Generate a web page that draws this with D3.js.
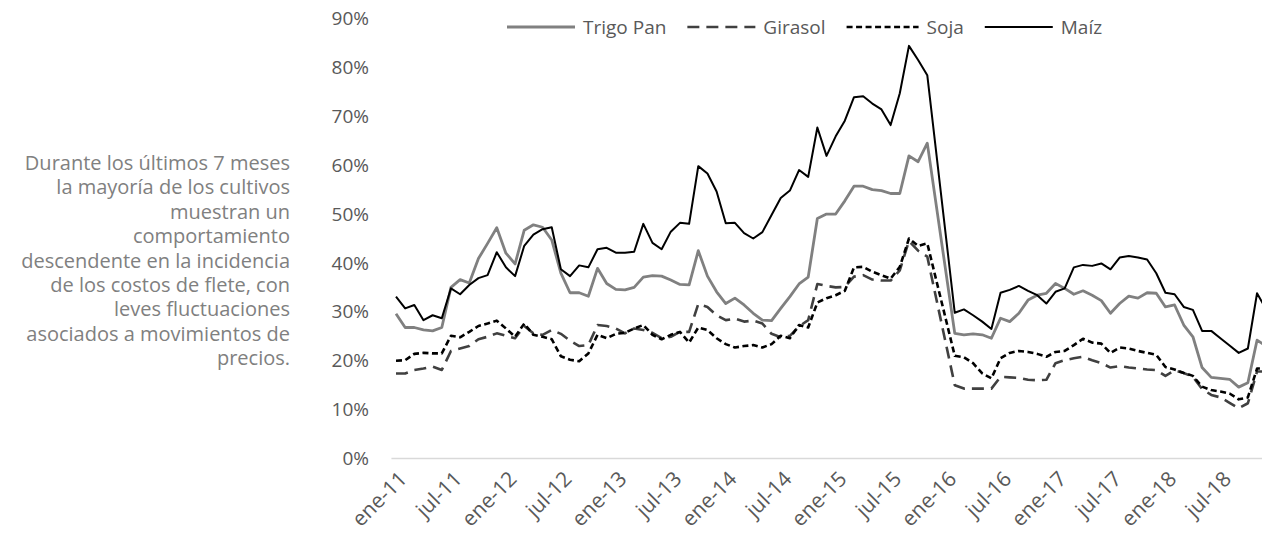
<!DOCTYPE html>
<html>
<head>
<meta charset="utf-8">
<script src="https://cdn.jsdelivr.net/npm/d3@7"></script>
<style>
  body { margin: 0; background: #fff; }
  svg { display: block; font-family: "Open Sans", sans-serif; }
</style>
</head>
<body>
<svg id="chart" width="1262" height="537"></svg>
<script>
// months ene-11 .. dic-18
const mesesAbr = ["ene","feb","mar","abr","may","jun","jul","ago","sep","oct","nov","dic"];
const anios = [11, 12, 13, 14, 15, 16, 17, 18];
const meses = anios.flatMap(a => mesesAbr.map(m => m + "-" + a));

const etiquetasX = ["ene-11","jul-11","ene-12","jul-12","ene-13","jul-13","ene-14","jul-14",
                    "ene-15","jul-15","ene-16","jul-16","ene-17","jul-17","ene-18","jul-18"];
const ticksY = [0, 10, 20, 30, 40, 50, 60, 70, 80, 90];

// incidencia del flete (%), null = sin dato
const trigoPan = [29.6,26.8,26.8,26.3,26.1,26.8,35.0,36.6,35.9,40.9,44.0,47.2,
                  42.0,39.8,46.7,47.8,47.3,44.7,37.9,33.9,33.9,33.2,38.9,35.8,
                  34.6,34.5,35.0,37.1,37.4,37.3,36.5,35.6,35.5,42.5,37.3,34.1,
                  31.7,32.8,31.4,29.7,28.3,28.2,30.7,33.1,35.7,37.1,49.1,50.0,
                  50.0,52.7,55.7,55.7,55.0,54.8,54.2,54.2,61.9,60.7,64.5,null,
                  null,25.6,25.3,25.5,25.3,24.6,28.7,28.0,29.7,32.4,33.4,33.8,
                  35.8,34.8,33.6,34.3,33.4,32.3,29.7,31.7,33.2,32.8,33.9,33.8,
                  31.0,31.4,27.3,24.9,18.6,16.6,16.4,16.2,14.6,15.5,24.2,23.0];
const girasol = [17.4,17.4,18.1,18.4,18.8,18.1,22.0,22.5,23.0,24.4,24.9,25.6,
                 25.1,24.6,27.1,25.6,25.3,26.3,25.5,24.1,23.0,23.2,27.3,27.1,
                 26.6,25.6,26.6,26.3,25.7,24.6,24.9,25.9,25.9,31.6,31.0,29.3,
                 28.3,28.6,28.0,28.2,27.6,25.5,24.8,25.1,27.0,28.3,35.7,35.3,
                 35.0,35.1,37.2,37.5,36.6,36.4,36.4,38.5,44.5,42.5,41.3,null,
                 null,15.0,14.3,14.3,14.3,14.3,16.7,16.6,16.5,16.1,16.0,16.1,
                 19.5,20.1,20.5,20.8,20.1,19.5,18.6,18.9,18.6,18.4,18.2,18.1,
                 16.9,18.0,17.5,16.7,14.2,13.0,12.5,11.4,10.3,11.3,17.8,17.8];
const soja = [20.0,20.1,21.4,21.6,21.5,21.5,25.1,24.8,25.9,27.1,27.6,28.2,
              26.6,24.9,27.6,25.3,24.9,24.4,20.9,20.2,19.9,21.5,25.3,24.6,
              25.5,25.7,26.6,27.3,25.3,24.4,25.3,25.9,23.7,26.8,26.3,24.6,
              23.4,22.7,23.0,23.2,22.7,23.4,25.1,24.6,27.3,26.8,31.9,32.8,
              33.4,34.3,39.1,39.2,38.2,37.5,36.8,39.2,45.0,43.5,44.0,null,
              null,21.0,20.7,19.5,17.4,16.4,20.5,21.6,22.0,21.8,21.4,20.8,
              21.8,22.0,23.2,24.5,23.7,23.5,21.6,22.7,22.5,22.0,21.6,21.2,
              18.7,18.2,17.5,16.9,14.7,14.0,13.7,13.3,12.1,12.5,18.4,18.4];
const maiz = [33.1,30.7,31.4,28.3,29.3,28.7,34.8,33.6,35.5,36.9,37.5,42.2,
              39.1,37.3,43.5,45.8,46.9,47.3,38.7,37.3,39.5,39.1,42.8,43.1,
              42.1,42.1,42.3,48.0,44.1,42.8,46.4,48.2,48.0,59.8,58.3,54.6,
              48.1,48.2,46.1,45.0,46.3,49.8,53.3,54.8,59.0,57.6,67.7,61.9,
              65.9,69.1,73.9,74.1,72.6,71.4,68.2,74.7,84.4,81.5,78.4,null,
              null,29.8,30.5,29.3,28.0,26.5,33.9,34.5,35.3,34.3,33.4,31.7,
              34.1,34.8,39.1,39.6,39.4,39.9,38.7,41.1,41.4,41.1,40.7,37.9,
              33.9,33.6,31.0,30.4,26.1,26.1,24.6,23.1,21.6,22.5,33.8,30.5];

const series = [
  { nombre: "Trigo Pan", valores: trigoPan, color: "#808080", ancho: 2.8, dash: null },
  { nombre: "Girasol",   valores: girasol,  color: "#404040", ancho: 2.6, dash: "12,7" },
  { nombre: "Soja",      valores: soja,     color: "#000000", ancho: 2.6, dash: "6,3.5" },
  { nombre: "Maíz",      valores: maiz,     color: "#000000", ancho: 2,   dash: null }
];

const nota = ["Durante los últimos 7 meses", "la mayoría de los cultivos", "muestran un",
              "comportamiento", "descendente en la incidencia", "de los costos de flete, con",
              "leves fluctuaciones", "asociados a movimientos de", "precios."];

const svg = d3.select("#chart");
svg.append("rect").attr("width", 1262).attr("height", 537).attr("fill", "#fff");

const paso = 9.16;
const x = d3.scaleLinear().domain([0, meses.length - 1]).range([396, 396 + paso * (meses.length - 1)]);
const y = d3.scaleLinear().domain([0, 90]).range([458.5, 18.5]);

// baseline at 0%
svg.append("line")
  .attr("x1", x(-0.5)).attr("x2", x(meses.length - 0.5))
  .attr("y1", y(0)).attr("y2", y(0))
  .attr("stroke", "#d9d9d9").attr("stroke-width", 1.5);

// y axis labels
const yAxis = d3.axisLeft(y).tickValues(ticksY).tickFormat(d => d + "%").tickSize(0).tickPadding(0);
const gy = svg.append("g").attr("transform", "translate(369,0)").call(yAxis);
gy.select(".domain").remove();
gy.selectAll("text").attr("font-size", 19).attr("fill", "#595959")
  .attr("font-family", "Open Sans, sans-serif");

// x axis labels, rotated 45deg
const xAxis = d3.axisBottom(x)
  .tickValues(etiquetasX.map(e => meses.indexOf(e)))
  .tickFormat(i => meses[i]).tickSize(0);
const gx = svg.append("g").call(xAxis);
gx.select(".domain").remove();
gx.selectAll(".tick").attr("transform", d => `translate(${x(d) + 7},475)`);
gx.selectAll("text")
  .attr("font-size", 21).attr("fill", "#595959")
  .attr("font-family", "Open Sans, sans-serif")
  .attr("text-anchor", "end")
  .attr("x", 0).attr("y", 0).attr("dy", "0.35em")
  .attr("transform", "rotate(-45)");

// lines
const linea = d3.line().x(d => x(d.i)).y(d => y(d.v));
series.forEach(s => {
  const pts = s.valores.map((v, i) => ({ i, v })).filter(d => d.v !== null);
  svg.append("path")
    .attr("d", linea(pts))
    .attr("fill", "none")
    .attr("stroke", s.color)
    .attr("stroke-width", s.ancho)
    .attr("stroke-linejoin", "round")
    .attr("stroke-dasharray", s.dash);
});

// legend
const leyenda = svg.append("g").attr("font-size", 19).attr("fill", "#595959");
let lx = 507;
series.forEach(s => {
  const largo = s.nombre === "Soja" ? 72 : 68;
  leyenda.append("line")
    .attr("x1", lx).attr("x2", lx + largo).attr("y1", 27).attr("y2", 27)
    .attr("stroke", s.color).attr("stroke-width", s.ancho)
    .attr("stroke-dasharray", s.dash);
  const t = leyenda.append("text").attr("x", lx + largo + 8).attr("y", 27).attr("dy", "0.35em")
    .text(s.nombre);
  lx += largo + 8 + t.node().getComputedTextLength() + 21;
});

// side note
svg.append("text")
  .attr("font-size", 20).attr("fill", "#808080").attr("text-anchor", "end")
  .selectAll("tspan").data(nota).join("tspan")
  .attr("x", 290).attr("y", (d, i) => 170 + i * 24.4)
  .text(d => d);
</script>
</body>
</html>
